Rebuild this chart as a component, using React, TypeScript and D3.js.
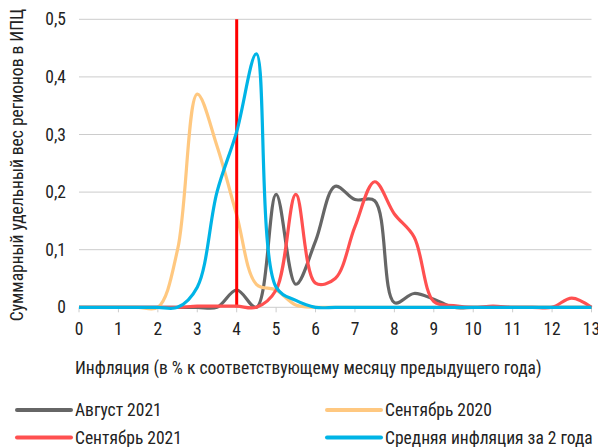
import React, { useEffect, useRef } from 'react';
import * as d3 from 'd3';

// шаг 0,5 п.п. от 0 до 13
const xValues = d3.range(0, 13.01, 0.5);

const august2021 = [0, 0, 0, 0, 0, 0, 0, 0, 0.03, 0, 0.196, 0.04, 0.115, 0.21, 0.187, 0.185, 0.008, 0.024, 0.014, 0, 0, 0, 0, 0, 0, 0, 0];
const september2020 = [0, 0, 0, 0, 0, 0.1, 0.37, 0.28, 0.16, 0.04, 0.03, 0.004, 0, 0, 0, 0, 0, 0, 0, 0, 0, 0, 0, 0, 0, 0, 0];
const september2021 = [0, 0, 0, 0, 0, 0, 0.002, 0.002, 0.002, 0, 0.03, 0.196, 0.042, 0.05, 0.14, 0.218, 0.162, 0.122, 0.01, 0.003, 0, 0.002, 0, 0, 0, 0.016, 0];
const avg2years = [0, 0, 0, 0, 0, 0, 0.035, 0.2, 0.305, 0.44, 0.035, 0.012, 0, 0, 0, 0, 0, 0, 0, 0, 0, 0, 0, 0, 0, 0, 0];

const seriesNames = ['Август 2021', 'Сентябрь 2020', 'Сентябрь 2021', 'Средняя инфляция за 2 года'];
const seriesColors = ['#666666', '#FFC880', '#FF5050', '#00B4E6'];
const seriesData = [august2021, september2020, september2021, avg2years];

const xTicks = d3.range(0, 14, 1);
const yTicks = [0, 0.1, 0.2, 0.3, 0.4, 0.5];
const markerX = 4;

const font = '"Liberation Sans Narrow", "Roboto Condensed", Roboto, sans-serif';
const fontSize = '17.5px';

function App() {
    const ref = useRef<SVGSVGElement>(null);

    useEffect(() => {
        const svg = d3.select(ref.current);
        svg.selectAll('*').remove();

        const x = d3.scaleLinear().domain([0, 13]).range([79, 591.5]);
        const y = d3.scaleLinear().domain([0, 0.5]).range([307.3, 19.3]);

        // сетка
        svg.append('g')
            .selectAll('line')
            .data(yTicks.filter(d => d > 0))
            .enter()
            .append('line')
            .attr('x1', x(0)).attr('x2', x(13))
            .attr('y1', d => y(d)).attr('y2', d => y(d))
            .attr('stroke', '#cccccc').attr('stroke-width', 1);

        // ось X
        svg.append('line')
            .attr('x1', x(0)).attr('x2', x(13))
            .attr('y1', y(0)).attr('y2', y(0))
            .attr('stroke', '#cccccc').attr('stroke-width', 1);
        svg.append('g')
            .selectAll('line')
            .data(xTicks)
            .enter()
            .append('line')
            .attr('x1', d => x(d)).attr('x2', d => x(d))
            .attr('y1', y(0)).attr('y2', y(0) + 5)
            .attr('stroke', '#cccccc');

        svg.append('g')
            .selectAll('text')
            .data(xTicks)
            .enter()
            .append('text')
            .attr('x', d => x(d))
            .attr('y', 334.5)
            .attr('text-anchor', 'middle')
            .style('font-size', fontSize)
            .style('fill', '#222')
            .text(d => String(d));

        svg.append('g')
            .selectAll('text')
            .data(yTicks)
            .enter()
            .append('text')
            .attr('x', 66)
            .attr('y', d => y(d))
            .attr('dy', '0.35em')
            .attr('text-anchor', 'end')
            .style('font-size', fontSize)
            .style('fill', '#222')
            .text(d => d === 0 ? '0' : d3.format('.1f')(d).replace('.', ','));

        const line = d3.line<number>()
            .x((d, i) => x(xValues[i]))
            .y(d => y(d))
            .curve(d3.curveCatmullRom.alpha(0.5));

        const drawSeries = (i: number) => {
            svg.append('path')
                .datum(seriesData[i])
                .attr('d', line)
                .attr('fill', 'none')
                .attr('stroke', seriesColors[i])
                .attr('stroke-width', 3.2)
                .attr('stroke-linejoin', 'round');
        };

        drawSeries(0);
        drawSeries(1);

        // вертикальная линия на 4%
        svg.append('line')
            .attr('x1', x(markerX)).attr('x2', x(markerX))
            .attr('y1', y(0)).attr('y2', y(0.5))
            .attr('stroke', '#FF0000').attr('stroke-width', 3);

        drawSeries(2);
        drawSeries(3);

        // подписи осей
        svg.append('text')
            .attr('transform', 'translate(23, 165) rotate(-90)')
            .attr('text-anchor', 'middle')
            .style('font-size', fontSize)
            .style('fill', '#222')
            .text('Суммарный удельный вес регионов в ИПЦ');

        svg.append('text')
            .attr('x', 75)
            .attr('y', 374)
            .style('font-size', fontSize)
            .style('fill', '#222')
            .text('Инфляция (в % к соответствующему месяцу предыдущего года)');

        // легенда
        const legendPos = [[17, 410], [327, 410], [17, 437.5], [327, 437.5]];
        seriesNames.forEach((name, i) => {
            const [lx, ly] = legendPos[i];
            svg.append('line')
                .attr('x1', lx).attr('x2', lx + 54)
                .attr('y1', ly).attr('y2', ly)
                .attr('stroke', seriesColors[i])
                .attr('stroke-width', 4)
                .attr('stroke-linecap', 'round');
            svg.append('text')
                .attr('x', lx + 58)
                .attr('y', ly)
                .attr('dy', '0.35em')
                .style('font-size', fontSize)
                .style('fill', '#222')
                .text(name);
        });
    }, []);

    return (
        <svg ref={ref} width={598} height={447}
            style={{ position: 'absolute', left: 0, top: 0, background: '#fff', fontFamily: font }}></svg>
    );
}

export default App;
